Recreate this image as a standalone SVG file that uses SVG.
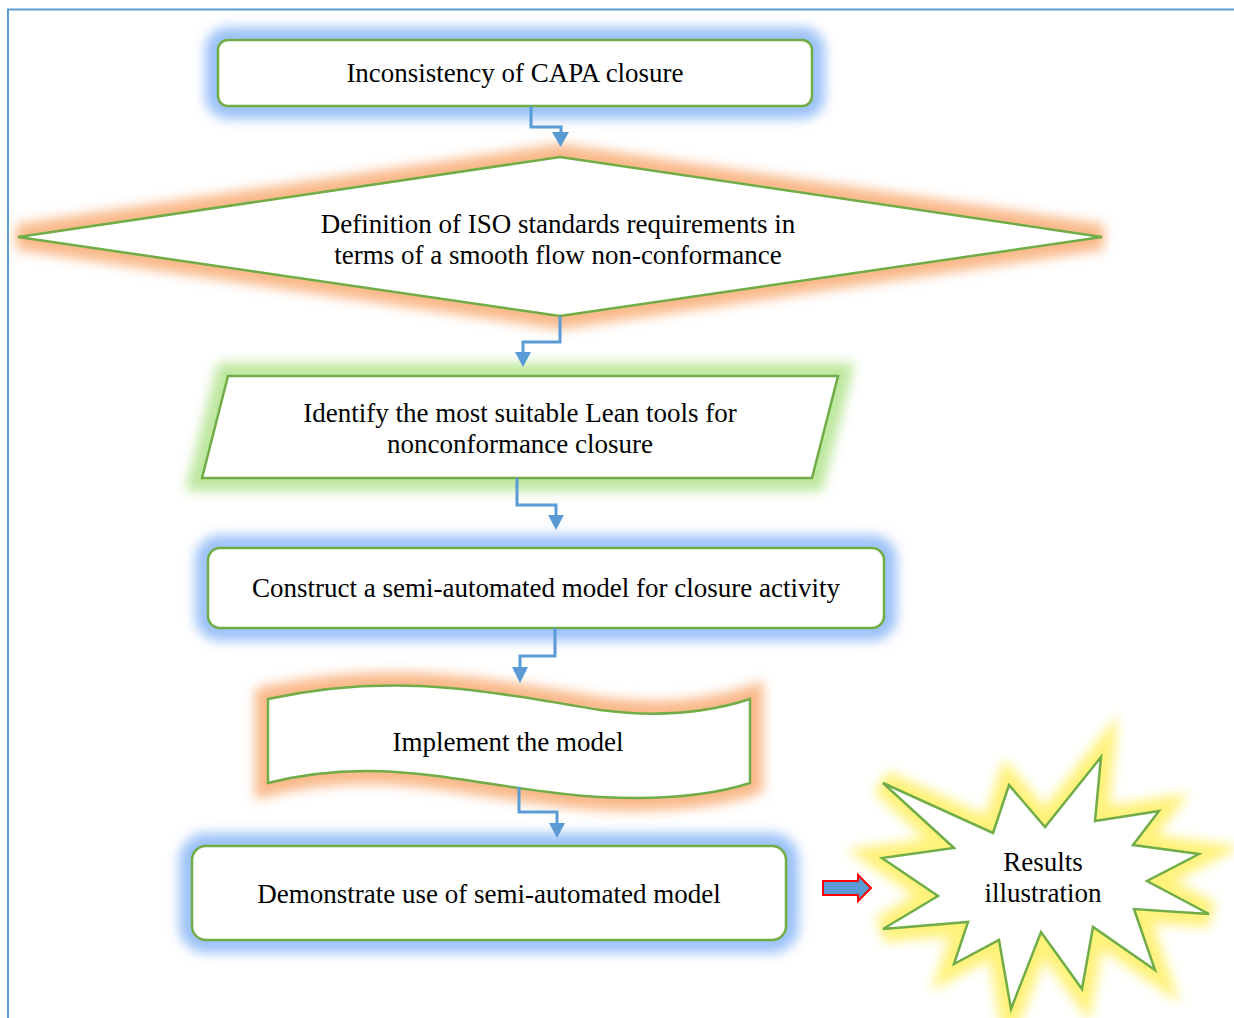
<svg xmlns="http://www.w3.org/2000/svg" width="1234" height="1018" viewBox="0 0 1234 1018">
<defs>
<filter id="blur" x="-20%" y="-50%" width="140%" height="200%"><feGaussianBlur stdDeviation="6"/></filter>
</defs>
<style>
.shape{fill:#fff;stroke:#70AD47;stroke-width:2.5;stroke-linejoin:miter}
.gb{fill:#9CC2F8;stroke:#9CC2F8;stroke-width:26}
.go{fill:#F9B98A;stroke:#F9B98A;stroke-width:26}
.gg{fill:#BDE79E;stroke:#BDE79E;stroke-width:26}
.gy{fill:#FFF27A;stroke:#FFF27A;stroke-width:26}
.c{fill:none;stroke:#5B9BD5;stroke-width:3}
.ah{fill:#5B9BD5}
</style>
<rect width="1234" height="1018" fill="#fff"/>
<path d="M8,1018 L8,9.5 L1234,9.5" fill="none" stroke="#5B9BD5" stroke-width="2"/>

<g font-family="'Liberation Serif', serif" font-size="27" text-anchor="middle" fill="#000">
<g id="n1">
<rect class="gb" x="218" y="40" width="594" height="66" rx="10" filter="url(#blur)"/>
<rect class="shape" x="218" y="40" width="594" height="66" rx="10"/>
<text x="515" y="82">Inconsistency of CAPA closure</text>
</g>

<g id="n2">
<polygon class="go" points="18,237 560,157 1102,237 560,316" filter="url(#blur)"/>
<polygon class="shape" points="18,237 560,157 1102,237 560,316"/>
<text x="558" y="233">Definition of ISO standards requirements in</text>
<text x="558" y="264">terms of a smooth flow non-conformance</text>
</g>

<g id="n3">
<polygon class="gg" points="228,376 838,376 812,478 202,478" filter="url(#blur)"/>
<polygon class="shape" points="228,376 838,376 812,478 202,478"/>
<text x="520" y="422">Identify the most suitable Lean tools for</text>
<text x="520" y="453">nonconformance closure</text>
</g>

<g id="n4">
<rect class="gb" x="208" y="548" width="676" height="80" rx="12" filter="url(#blur)"/>
<rect class="shape" x="208" y="548" width="676" height="80" rx="12"/>
<text x="546" y="597">Construct a semi-automated model for closure activity</text>
</g>

<g id="n5">
<path class="go" d="M268,699 C390,672 480,690 600,710 C660,718 710,712 750,699 L750,783 C710,796 660,800 600,797 C480,790 390,752 268,783 Z" filter="url(#blur)"/>
<path class="shape" d="M268,699 C390,672 480,690 600,710 C660,718 710,712 750,699 L750,783 C710,796 660,800 600,797 C480,790 390,752 268,783 Z"/>
<text x="508" y="751">Implement the model</text>
</g>

<g id="n6">
<rect class="gb" x="192" y="846" width="594" height="94" rx="14" filter="url(#blur)"/>
<rect class="shape" x="192" y="846" width="594" height="94" rx="14"/>
<text x="489" y="903">Demonstrate use of semi-automated model</text>
</g>

<g id="n7">
<polygon class="gy" points="883,783 993,833 1009,785 1045,827 1101,757 1095,821 1159,811 1133,845 1199,854 1147,881 1209,914 1134,909 1155,970 1093,927 1082,989 1041,932 1011,1009 999,940 954,964 968,922 883,929 938,896 882,858 954,848" filter="url(#blur)"/>
<polygon class="shape" points="883,783 993,833 1009,785 1045,827 1101,757 1095,821 1159,811 1133,845 1199,854 1147,881 1209,914 1134,909 1155,970 1093,927 1082,989 1041,932 1011,1009 999,940 954,964 968,922 883,929 938,896 882,858 954,848"/>
<text x="1043" y="871">Results</text>
<text x="1043" y="902">illustration</text>
</g>
</g>

<g id="connectors">
<path class="c" d="M531,106 V127 H561 V133"/>
<polygon class="ah" points="552,132 569,132 560.5,147"/>
<path class="c" d="M560,316 V342 H523 V353"/>
<polygon class="ah" points="515,352 531,352 523,367"/>
<path class="c" d="M517,478 V505 H556 V516"/>
<polygon class="ah" points="548,515 564,515 556,530"/>
<path class="c" d="M555,628 V656 H520 V668"/>
<polygon class="ah" points="512,667 528,667 520,683"/>
<path class="c" d="M519,787 V812 H557 V824"/>
<polygon class="ah" points="549,823 565,823 557,838"/>
<polygon points="823,881 858,881 858,875 871,888 858,901 858,895 823,895" fill="#5B9BD5" stroke="#FF0000" stroke-width="2"/>
</g>
</svg>
